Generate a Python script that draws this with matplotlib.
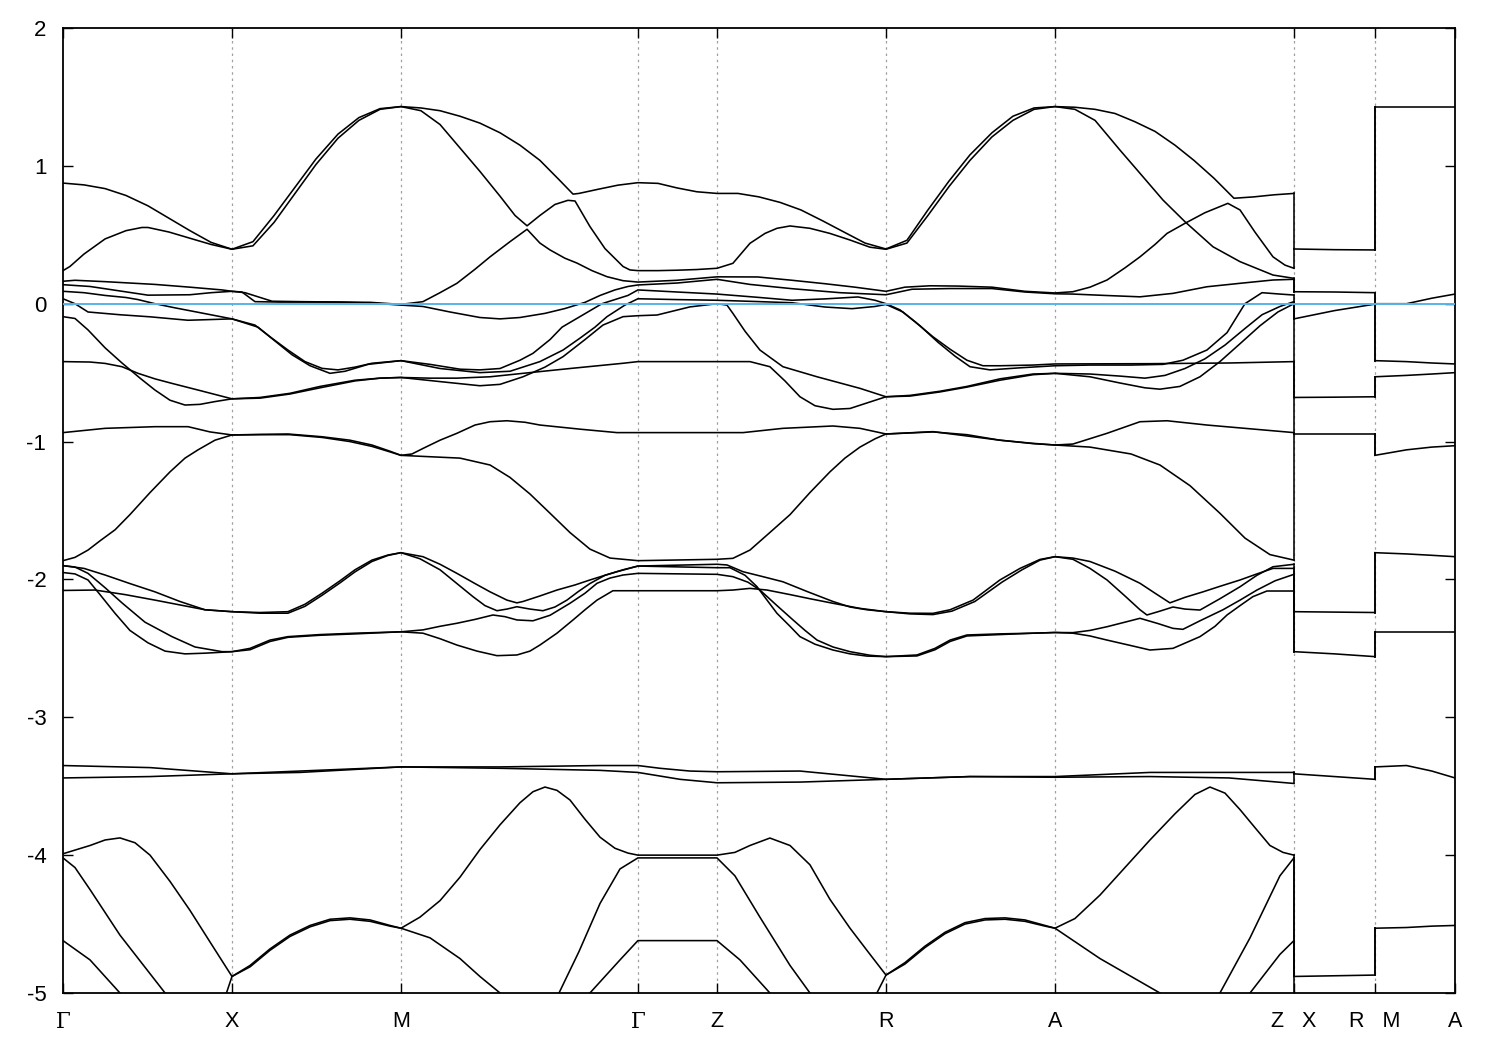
import matplotlib
matplotlib.use("Agg")
import matplotlib.pyplot as plt

# high-symmetry points along the path (k in units of the G-X length)
K_SYM = [0.0, 1.0, 2.0, 3.402, 3.870, 4.870, 5.870, 7.284, 7.763, 8.237]
K_LABELS = ["Γ", "X", "M", "Γ", "Z", "R", "A", "Z   X", "R   M", "A"]
Y_TICKS = [-5, -4, -3, -2, -1, 0, 1, 2]
Y_TICK_LABELS = ["-5", "-4", "-3", "-2", "-1", "0", "1", "2"]
E_FERMI = 0.0

# ---- continuous part of the path  G-X-M-G-Z-R-A-Z : (k, E) ----
U1 = [(0,.875),(.124,.862),(.249,.835),(.373,.785),(.503,.71),(.627,.62),(.751,.53),(.876,.445),(1.0,.395),
      (1.124,.45),(1.249,.64),(1.373,.845),(1.497,1.05),(1.627,1.23),(1.751,1.35),(1.876,1.415),(2.0,1.43),
      (2.118,1.42),(2.231,1.40),(2.349,1.36),(2.467,1.31),(2.586,1.24),(2.704,1.15),(2.822,1.04),(2.935,0.90),
      (3.018,0.795),(3.053,0.80),(3.166,0.83),(3.284,0.86),(3.402,0.878),(3.521,0.873),(3.633,0.84),(3.751,0.812),
      (3.870,0.80),(3.994,0.80),(4.118,0.775),(4.243,0.735),(4.367,0.68),(4.497,0.60),(4.621,0.52),(4.746,0.44),
      (4.870,0.397),(4.994,0.46),(5.118,0.68),(5.243,0.89),(5.367,1.08),(5.497,1.24),(5.621,1.36),(5.746,1.42),
      (5.870,1.43),(5.988,1.425),(6.107,1.41),(6.225,1.38),(6.343,1.32),(6.462,1.25),(6.580,1.15),(6.692,1.04),
      (6.811,0.91),(6.929,0.765),(7.047,0.775),(7.166,0.79),(7.284,0.80)]
U2 = [(0,.24),(.041,.27),(.124,.36),(.249,.47),(.373,.53),(.467,.553),(.503,.553),(.627,.52),(.751,.475),(.876,.43),
      (1.0,.395),(1.124,.42),(1.249,.59),(1.373,.80),(1.497,1.01),(1.627,1.20),(1.751,1.33),(1.876,1.41),(2.0,1.43),
      (2.118,1.40),(2.231,1.30),(2.349,1.13),(2.467,0.96),(2.586,0.78),(2.675,0.64),(2.746,0.565),(2.822,0.64),
      (2.911,0.72),(2.988,0.75),(3.030,0.745),(3.118,0.56),(3.207,0.40),(3.314,0.27),(3.355,0.245),(3.402,0.24),
      (3.521,0.24),(3.633,0.243),(3.751,0.248),(3.870,0.257),(3.964,0.293),(4.065,0.438),(4.154,0.51),(4.225,0.547),
      (4.302,0.564),(4.420,0.547),(4.538,0.51),(4.657,0.462),(4.775,0.41),(4.870,0.395),(4.994,0.44),(5.118,0.64),
      (5.243,0.85),(5.367,1.04),(5.497,1.21),(5.621,1.33),(5.746,1.41),(5.870,1.43),(5.988,1.41),(6.107,1.33),
      (6.254,1.115),(6.373,0.946),(6.509,0.752),(6.639,0.595),(6.805,0.413),(6.965,0.305),(7.160,0.208),(7.284,0.184)]
N3 = [(0,.163),(.071,.17),(.249,.16),(.544,.14),(.751,.12),(.941,.10),(1.0,.09),(1.059,.085),(1.136,.015),
      (1.284,.012),(1.580,.012),(1.817,.01),(2.0,-0.005),(2.130,.015),(2.231,.08),(2.331,.148),(2.438,.25),
      (2.527,.34),(2.645,.45),(2.746,.54),(2.822,.44),(2.882,.39),(2.970,.33),(3.041,.295),(3.130,.24),(3.219,.196),
      (3.314,.167),(3.402,.157),(3.633,.17),(3.870,.195),(4.112,.194),(4.314,.17),(4.509,.145),(4.686,.12),
      (4.870,.09),(4.982,.12),(5.130,.13),(5.296,.128),(5.497,.12),(5.692,.09),(5.870,.078),(5.976,.087),
      (6.077,.12),(6.178,.172),(6.284,.26),(6.373,.34),(6.462,.43),(6.533,.51),(6.639,.583),(6.757,.66),
      (6.893,.728),(6.965,.68),(7.053,.52),(7.160,.34),(7.231,.28),(7.284,.257)]
N4 = [(0,.138),(.160,.125),(.503,.062),(.751,.065),(.876,.08),(1.0,.09),(1.077,.08),(1.237,.018),(1.402,.015),
      (1.639,.012),(1.817,.005),(2.0,-0.01),(2.130,-0.02),(2.290,-0.06),(2.467,-0.10),(2.586,-0.11),(2.704,-0.10),
      (2.852,-0.07),(2.970,-0.035),(3.089,.01),(3.178,.06),(3.266,.10),(3.343,.125),(3.402,.136),(3.633,.15),
      (3.870,.177),(4.065,.14),(4.314,.109),(4.598,.08),(4.870,.065),(5.024,.105),(5.249,.11),(5.497,.11),
      (5.692,.085),(5.870,.072),(5.976,.07),(6.166,.06),(6.373,.05),(6.568,.075),(6.769,.123),(6.965,.148),
      (7.160,.172),(7.284,.177)]
N5 = [(0,.09),(.124,.08),(.249,.06),(.373,.045),(.444,.03),(.544,.0),(.663,-.03),(.811,-.065),(1.0,-.11),
      (1.136,-.155),(1.225,-.24),(1.331,-.336),(1.432,-.42),(1.533,-.469),(1.627,-.48),(1.728,-.46),(1.828,-.432),
      (2.0,-.413),(2.172,-.44),(2.349,-.475),(2.467,-.48),(2.586,-.47),(2.704,-.41),(2.781,-.36),(2.882,-.26),
      (2.953,-.17),(3.071,-.085),(3.189,0.0),(3.343,.06),(3.402,.10),(3.633,.085),(3.870,.07),(4.124,.045),
      (4.314,.025),(4.509,.035),(4.704,.049),(4.805,.025),(4.870,0.0),(4.953,-.045),(5.041,-.13),(5.148,-.24),
      (5.249,-.33),(5.349,-.41),(5.444,-.45),(5.544,-.45),(5.740,-.445),(5.870,-.437),(6.432,-.435),(6.899,-.43),
      (7.284,-.42)]
N6 = [(0,.036),(.071,0.0),(.148,-.06),(.337,-.08),(.515,-.095),(.740,-.12),(.870,-.115),(1.0,-.11),(1.154,-.17),
      (1.254,-.27),(1.355,-.37),(1.462,-.45),(1.580,-.505),(1.669,-.49),(1.805,-.44),(2.0,-.413),(2.231,-.47),
      (2.467,-.50),(2.645,-.49),(2.822,-.42),(2.959,-.336),(3.059,-.25),(3.148,-.17),(3.219,-.094),(3.325,-.01),
      (3.402,.036),(3.633,.03),(3.870,.025),(4.124,.015),(4.314,.007),(4.509,-.024),(4.669,-.036),(4.805,-.02),
      (4.870,-.005),(4.970,-.06),(5.071,-.16),(5.178,-.28),(5.278,-.38),(5.367,-.457),(5.485,-.48),(5.663,-.465),
      (5.870,-.45),(6.077,-.445),(6.320,-.445),(6.509,-.44),(6.627,-.41),(6.769,-.336),(6.888,-.21),(6.994,0.0),
      (7.095,.08),(7.201,.07),(7.284,.063)]
N7 = [(0,-.094),(.071,-.107),(.148,-.19),(.249,-.32),(.349,-.43),(.456,-.54),(.544,-.626),(.633,-.70),(.722,-.735),
      (.811,-.73),(.899,-.71),(1.0,-.69),(1.166,-.68),(1.343,-.65),(1.521,-.60),(1.728,-.555),(1.876,-.54),(2.0,-.535),
      (2.231,-.565),(2.467,-.595),(2.586,-.585),(2.722,-.53),(2.852,-.46),(2.959,-.384),(3.089,-.26),(3.195,-.155),
      (3.314,-.094),(3.402,-.087),(3.515,-.082),(3.710,-.023),(3.870,0.0),(3.929,-.01),(3.964,-.07),(4.036,-.2),
      (4.124,-.336),(4.260,-.457),(4.462,-.53),(4.716,-.614),(4.870,-.675),(5.012,-.665),(5.189,-.635),(5.349,-.60),
      (5.544,-.545),(5.740,-.51),(5.870,-.505),(6.077,-.51),(6.254,-.525),(6.402,-.54),(6.521,-.52),(6.639,-.47),
      (6.757,-.40),(6.876,-.30),(6.994,-.18),(7.095,-.08),(7.201,-.02),(7.284,.015)]
N8 = [(0,-.42),(.160,-.423),(.249,-.433),(.349,-.457),(.444,-.505),(.544,-.545),(.645,-.578),(.811,-.63),(1.0,-.69),
      (1.166,-.685),(1.343,-.655),(1.521,-.61),(1.728,-.56),(1.876,-.54),(2.0,-.535),(2.172,-.54),(2.331,-.54),
      (2.527,-.53),(2.722,-.505),(3.0,-.47),(3.314,-.432),(3.402,-.42),(3.870,-.42),(4.065,-.42),(4.183,-.457),
      (4.272,-.56),(4.361,-.675),(4.450,-.74),(4.556,-.766),(4.657,-.76),(4.757,-.72),(4.870,-.675),(5.012,-.67),
      (5.189,-.64),(5.349,-.605),(5.544,-.555),(5.740,-.515),(5.870,-.505),(6.077,-.53),(6.254,-.575),(6.402,-.61),
      (6.491,-.62),(6.609,-.60),(6.728,-.53),(6.846,-.42),(6.965,-.29),(7.083,-.16),(7.189,-.06),(7.284,0.0)]
M1 = [(0,-.935),(.249,-.904),(.544,-.892),(.740,-.892),(.870,-.93),(1.0,-.952),(1.166,-.948),(1.331,-.945),
      (1.533,-.965),(1.698,-.99),(1.828,-1.025),(1.935,-1.07),(2.0,-1.10),(2.065,-1.09),(2.130,-1.05),(2.231,-.99),
      (2.331,-.94),(2.438,-.88),(2.527,-.856),(2.627,-.849),(2.734,-.86),(2.822,-.88),(3.059,-.91),(3.278,-.935),
      (3.402,-.935),(3.870,-.935),(4.024,-.935),(4.260,-.904),(4.556,-.887),(4.716,-.904),(4.870,-.945),
      (5.148,-.928),(5.544,-.99),(5.740,-1.013),(5.870,-1.025),(5.976,-1.018),(6.178,-.94),(6.373,-.856),
      (6.533,-.849),(6.769,-.88),(7.284,-.935)]
M2 = [(0,-1.864),(.071,-1.84),(.148,-1.787),(.219,-1.72),(.308,-1.64),(.396,-1.53),(.515,-1.37),(.633,-1.22),
      (.722,-1.12),(.799,-1.06),(.899,-.99),(1.0,-.952),(1.166,-.95),(1.343,-.95),(1.533,-.97),(1.698,-1.0),
      (1.828,-1.035),(1.935,-1.075),(2.0,-1.10),(2.172,-1.11),(2.349,-1.12),(2.527,-1.17),(2.645,-1.26),
      (2.763,-1.38),(2.882,-1.52),(3.0,-1.66),(3.118,-1.78),(3.237,-1.845),(3.402,-1.864),(3.870,-1.854),
      (3.964,-1.847),(4.065,-1.787),(4.201,-1.64),(4.302,-1.53),(4.420,-1.37),(4.538,-1.22),(4.627,-1.12),
      (4.716,-1.04),(4.805,-.98),(4.870,-.945),(5.148,-.93),(5.349,-.95),(5.544,-.99),(5.740,-1.015),(5.870,-1.025),
      (6.077,-1.04),(6.320,-1.09),(6.491,-1.17),(6.669,-1.32),(6.846,-1.52),(6.994,-1.70),(7.142,-1.82),(7.284,-1.86)]
L1 = [(0,-1.90),(.124,-1.92),(.249,-1.968),(.396,-2.03),(.544,-2.09),(.692,-2.16),(.840,-2.22),(1.0,-2.234),
      (1.166,-2.24),(1.331,-2.234),(1.432,-2.18),(1.533,-2.10),(1.639,-2.01),(1.728,-1.93),(1.828,-1.86),
      (1.923,-1.823),(2.0,-1.806),(2.130,-1.835),(2.231,-1.89),(2.331,-1.956),(2.438,-2.03),(2.527,-2.09),
      (2.627,-2.15),(2.686,-2.17),(2.722,-2.16),(2.822,-2.12),(2.923,-2.077),(3.030,-2.04),(3.118,-2.004),
      (3.207,-1.97),(3.278,-1.944),(3.402,-1.903),(3.870,-1.89),(3.929,-1.895),(4.024,-1.944),(4.142,-1.98),
      (4.260,-2.017),(4.408,-2.09),(4.556,-2.16),(4.657,-2.20),(4.757,-2.22),(4.870,-2.234),(5.012,-2.245),
      (5.148,-2.246),(5.249,-2.22),(5.385,-2.15),(5.544,-2.004),(5.663,-1.92),(5.781,-1.855),(5.870,-1.835),
      (5.976,-1.854),(6.077,-1.92),(6.178,-2.004),(6.284,-2.12),(6.373,-2.22),(6.414,-2.258),(6.491,-2.23),
      (6.568,-2.20),(6.639,-2.215),(6.728,-2.222),(6.846,-2.14),(6.965,-2.053),(7.065,-1.97),(7.160,-1.908),
      (7.284,-1.89)]
L2 = [(0,-1.90),(.071,-1.91),(.148,-1.956),(.249,-2.06),(.349,-2.17),(.485,-2.31),(.645,-2.415),(.781,-2.49),
      (.941,-2.524),(1.0,-2.524),(1.107,-2.50),(1.225,-2.44),(1.331,-2.415),(1.521,-2.40),(1.728,-2.39),(2.0,-2.38),
      (2.130,-2.366),(2.231,-2.34),(2.331,-2.318),(2.438,-2.29),(2.544,-2.258),(2.615,-2.27),(2.686,-2.294),
      (2.781,-2.30),(2.882,-2.26),(3.0,-2.173),(3.089,-2.10),(3.160,-2.028),(3.237,-1.99),(3.314,-1.968),
      (3.402,-1.956),(3.870,-1.963),(3.964,-1.98),(4.053,-2.02),(4.124,-2.077),(4.225,-2.19),(4.320,-2.294),
      (4.391,-2.37),(4.462,-2.44),(4.556,-2.49),(4.657,-2.524),(4.775,-2.55),(4.870,-2.56),(5.053,-2.555),
      (5.160,-2.51),(5.249,-2.45),(5.349,-2.41),(5.544,-2.40),(5.740,-2.39),(5.870,-2.385),(5.976,-2.39),
      (6.077,-2.41),(6.178,-2.44),(6.320,-2.48),(6.432,-2.512),(6.568,-2.50),(6.728,-2.415),(6.817,-2.34),
      (6.888,-2.258),(6.965,-2.19),(7.041,-2.125),(7.124,-2.084),(7.284,-2.084)]
L3 = [(0,-1.95),(.071,-1.96),(.148,-2.004),(.219,-2.11),(.308,-2.246),(.396,-2.37),(.503,-2.46),(.604,-2.52),
      (.722,-2.54),(.840,-2.535),(1.0,-2.524),(1.107,-2.51),(1.225,-2.45),(1.331,-2.42),(1.521,-2.405),
      (1.728,-2.395),(2.0,-2.38),(2.130,-2.39),(2.231,-2.43),(2.331,-2.476),(2.450,-2.52),(2.568,-2.553),
      (2.686,-2.548),(2.763,-2.52),(2.822,-2.476),(2.923,-2.39),(3.018,-2.294),(3.089,-2.22),(3.160,-2.15),
      (3.254,-2.082),(3.325,-2.082),(3.402,-2.082),(3.870,-2.082),(3.964,-2.077),(4.065,-2.065),(4.166,-2.077),
      (4.302,-2.11),(4.420,-2.14),(4.556,-2.173),(4.716,-2.21),(4.870,-2.234),(5.012,-2.25),(5.148,-2.255),
      (5.260,-2.23),(5.396,-2.16),(5.556,-2.02),(5.675,-1.93),(5.781,-1.86),(5.870,-1.835),(5.976,-1.845),
      (6.077,-1.87),(6.225,-1.94),(6.373,-2.028),(6.462,-2.10),(6.550,-2.17),(6.639,-2.13),(6.746,-2.09),
      (6.846,-2.05),(6.965,-2.004),(7.065,-1.96),(7.160,-1.92),(7.284,-1.92)]
L4 = [(0,-2.08),(.189,-2.077),(.367,-2.11),(.544,-2.15),(.692,-2.185),(.840,-2.22),(1.0,-2.234),(1.166,-2.245),
      (1.331,-2.245),(1.432,-2.195),(1.533,-2.115),(1.639,-2.025),(1.728,-1.945),(1.828,-1.87),(1.923,-1.826),
      (2.0,-1.806),(2.112,-1.85),(2.231,-1.93),(2.331,-2.03),(2.426,-2.125),(2.497,-2.19),(2.568,-2.227),
      (2.627,-2.215),(2.686,-2.198),(2.763,-2.215),(2.840,-2.227),(2.911,-2.20),(2.982,-2.15),(3.047,-2.09),
      (3.118,-2.03),(3.207,-1.97),(3.314,-1.93),(3.402,-1.903),(3.870,-1.915),(3.947,-1.915),(4.036,-1.97),
      (4.107,-2.053),(4.166,-2.15),(4.225,-2.246),(4.302,-2.34),(4.361,-2.415),(4.450,-2.47),(4.556,-2.512),
      (4.657,-2.54),(4.757,-2.556),(4.870,-2.56),(5.053,-2.548),(5.160,-2.50),(5.249,-2.44),(5.349,-2.403),
      (5.544,-2.395),(5.740,-2.39),(5.870,-2.385),(5.976,-2.386),(6.077,-2.37),(6.178,-2.343),(6.284,-2.31),
      (6.373,-2.282),(6.479,-2.32),(6.568,-2.355),(6.627,-2.362),(6.728,-2.30),(6.864,-2.22),(6.965,-2.15),
      (7.065,-2.077),(7.172,-2.01),(7.284,-1.963)]
B1 = [(0,-3.35),(.515,-3.365),(1.0,-3.41),(1.402,-3.39),(2.0,-3.36),(2.586,-3.36),(3.178,-3.35),(3.402,-3.35),
      (3.533,-3.37),(3.710,-3.39),(3.870,-3.395),(4.361,-3.39),(4.870,-3.45),(5.367,-3.43),(5.870,-3.43),
      (6.432,-3.40),(7.284,-3.40)]
B2 = [(0,-3.44),(.515,-3.43),(1.0,-3.41),(1.402,-3.40),(2.0,-3.36),(2.586,-3.37),(3.178,-3.385),(3.402,-3.40),
      (3.651,-3.45),(3.870,-3.475),(4.361,-3.47),(4.870,-3.45),(5.367,-3.43),(5.870,-3.435),(6.432,-3.43),
      (6.899,-3.44),(7.284,-3.48)]
D1 = [(0,-3.99),(.160,-3.93),(.249,-3.89),(.337,-3.875),(.426,-3.91),(.515,-4.0),(.633,-4.19),(.751,-4.40),
      (.870,-4.63),(1.0,-4.88),(1.107,-4.80),(1.225,-4.68),(1.343,-4.58),(1.462,-4.51),(1.580,-4.465),(1.698,-4.455),
      (1.817,-4.47),(1.935,-4.51),(2.0,-4.53),(2.112,-4.45),(2.231,-4.33),(2.349,-4.16),(2.467,-3.96),(2.586,-3.78),
      (2.704,-3.62),(2.781,-3.54),(2.852,-3.506),(2.923,-3.53),(3.0,-3.60),(3.089,-3.74),(3.178,-3.87),(3.266,-3.95),
      (3.343,-3.985),(3.402,-4.0),(3.870,-4.0),(3.976,-3.98),(4.065,-3.93),(4.183,-3.876),(4.302,-3.93),
      (4.420,-4.07),(4.538,-4.32),(4.657,-4.53),(4.763,-4.70),(4.870,-4.87),(4.982,-4.78),(5.101,-4.66),
      (5.219,-4.56),(5.337,-4.49),(5.456,-4.46),(5.574,-4.455),(5.692,-4.47),(5.811,-4.51),(5.870,-4.53),
      (5.988,-4.46),(6.136,-4.29),(6.284,-4.09),(6.432,-3.89),(6.580,-3.70),(6.698,-3.56),(6.787,-3.506),
      (6.876,-3.55),(6.965,-3.67),(7.053,-3.80),(7.142,-3.93),(7.219,-3.98),(7.284,-4.0)]
D2 = [(0,-4.02),(.071,-4.09),(.160,-4.25),(.337,-4.58),(.604,-5.0),(.80,-5.3),(.94,-5.1),(1.0,-4.88),
      (1.107,-4.81),(1.225,-4.69),(1.343,-4.59),(1.462,-4.52),(1.580,-4.475),(1.698,-4.465),(1.817,-4.48),
      (1.935,-4.515),(2.0,-4.53),(2.172,-4.60),(2.349,-4.75),(2.467,-4.88),(2.586,-5.0),(2.75,-5.5),(2.935,-5.0),
      (3.053,-4.70),(3.178,-4.35),(3.296,-4.10),(3.402,-4.02),(3.870,-4.02),(3.976,-4.15),(4.124,-4.45),
      (4.302,-4.80),(4.420,-5.0),(4.65,-5.4),(4.870,-4.87),(4.982,-4.79),(5.101,-4.67),(5.219,-4.57),(5.337,-4.50),
      (5.456,-4.47),(5.574,-4.465),(5.692,-4.48),(5.811,-4.515),(5.870,-4.53),(6.136,-4.75),(6.491,-5.0),
      (6.70,-5.5),(6.846,-5.0),(7.024,-4.60),(7.201,-4.15),(7.284,-4.02)]
D3A = [(0,-4.62),(.160,-4.76),(.337,-5.0),(.456,-5.2)]
D3B = [(3.0,-5.3),(3.118,-5.0),(3.296,-4.76),(3.402,-4.62),(3.870,-4.62),(4.006,-4.76),(4.183,-5.0),(4.30,-5.2)]
D3C = [(6.95,-5.3),(7.024,-5.0),(7.201,-4.72),(7.284,-4.62)]

MAIN_BANDS = [U1, U2, N3, N4, N5, N6, N7, N8, M1, M2, L1, L2, L3, L4, B1, B2, D1, D2, D3A, D3B, D3C]
# bands that reach the Z end of the continuous path (used for the jump to X)
Z_END_BANDS = [U1, U2, N3, N4, N5, N6, N7, N8, M1, M2, L1, L2, L3, L4, B1, B2, D1, D2, D3C]

# ---- X-R segment ----
K_XR = [7.284, 7.524, 7.763]
XR_BANDS = [[.397, .392, .39], [.087, .085, .08], [-.11, -.05, -.003], [-.68, -.678, -.675],
            [-.945, -.945, -.945], [-2.234, -2.237, -2.24], [-2.524, -2.54, -2.56], [-3.41, -3.43, -3.45],
            [-4.88, -4.875, -4.87], [-5.3, -5.3, -5.3]]
# number of band lines joined to each X-R line at the Z|X break, and at the R|M break
XR_JOIN_ZX = [2, 2, 2, 1, 3, 2, 2, 2, 2, 2]
XR_JOIN_RM = [2, 2, 2, 2, 2, 2, 2, 2, 2, 2]
# ---- M-A segment (each line doubly degenerate) ----
K_MA = [7.763, 7.95, 8.10, 8.237]
MA_BANDS = [[1.43, 1.43, 1.43, 1.43], [0.0, 0.0, .04, .07], [-.413, -.42, -.43, -.437], [-.53, -.52, -.51, -.50],
            [-1.10, -1.06, -1.04, -1.03], [-1.806, -1.815, -1.825, -1.835], [-2.38, -2.38, -2.38, -2.38],
            [-3.36, -3.35, -3.39, -3.44], [-4.53, -4.525, -4.515, -4.51]]
MA_DEGEN = 2

LW = 1.15
fig = plt.figure(figsize=(15, 10.5), dpi=100)
ax = fig.add_axes([63/1500, 1-993/1050, (1455-63)/1500, (993-28)/1050])

for b in MAIN_BANDS:
    ax.plot([p[0] for p in b], [p[1] for p in b], color="black", lw=LW, zorder=3)
for b in XR_BANDS:
    ax.plot(K_XR, b, color="black", lw=LW, zorder=3)
for b in MA_BANDS:
    ax.plot(K_MA, b, color="black", lw=LW, zorder=3)

# vertical jumps at path discontinuities (bands joined in energy order)
left = sorted([b[-1][1] for b in Z_END_BANDS], reverse=True)
right = sorted([b[0] for b, n in zip(XR_BANDS, XR_JOIN_ZX) for _ in range(n)], reverse=True)
for l, r in zip(left, right):
    ax.plot([K_SYM[7], K_SYM[7]], [l, r], color="black", lw=LW, zorder=3)
left = sorted([b[-1] for b, n in zip(XR_BANDS, XR_JOIN_RM) for _ in range(n)], reverse=True)
right = sorted([b[0] for b in MA_BANDS for _ in range(MA_DEGEN)], reverse=True)
for l, r in zip(left, right):
    ax.plot([K_SYM[8], K_SYM[8]], [l, r], color="black", lw=LW, zorder=3)

for k in K_SYM[1:-1]:
    ax.axvline(k, color="#a0a0a0", lw=0.9, ls=(0, (2, 3)), zorder=1)
ax.axhline(E_FERMI, color="#56b4e9", lw=1.4, zorder=4)

ax.set_xlim(K_SYM[0], K_SYM[-1])
ax.set_ylim(-5, 2)
ax.set_yticks(Y_TICKS)
ax.set_yticklabels(Y_TICK_LABELS, fontsize=16, family="Liberation Sans")
ax.set_xticks(K_SYM)
ax.set_xticklabels(K_LABELS, fontsize=15.5, family="Liberation Sans")
for t, lab in zip(ax.get_xticklabels(), K_LABELS):
    if lab == "Γ":
        t.set_fontfamily("DejaVu Serif")
ax.tick_params(direction="in", length=7, width=1.0, top=True, right=True)
ax.tick_params(axis="x", pad=13)
ax.tick_params(axis="y", pad=12)
for s in ax.spines.values():
    s.set_linewidth(1.3)

fig.savefig("out.png", dpi=100)
